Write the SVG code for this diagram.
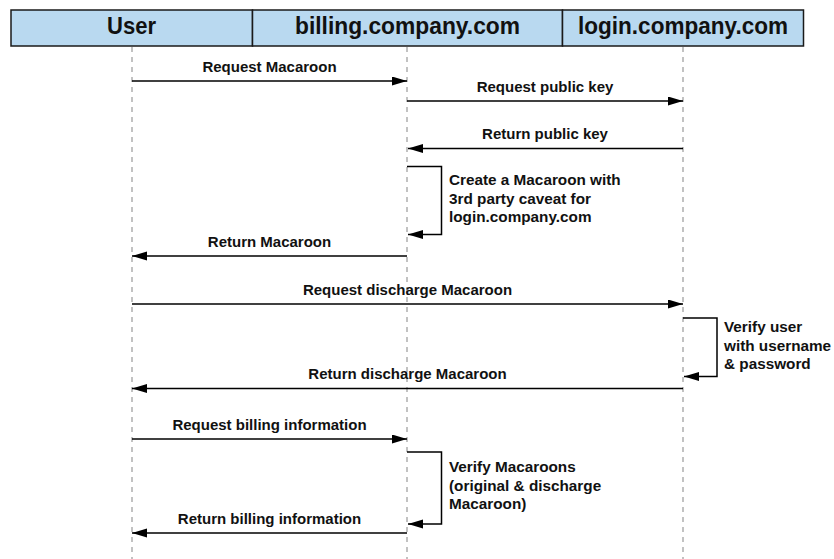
<svg xmlns="http://www.w3.org/2000/svg" width="834" height="559" viewBox="0 0 834 559">
  <style>
    .hdr { fill: #b9d9f0; stroke: #1a1a1a; stroke-width: 1.5; }
    .htxt { font-family: "Liberation Sans", Arial, sans-serif; font-weight: bold; font-size: 24.5px; fill: #111; text-anchor: middle; }
    .life { stroke: #9a9a9a; stroke-width: 1.2; stroke-dasharray: 5 5; fill: none; }
    .msg { stroke: #000; stroke-width: 1.5; fill: none; marker-end: url(#head); }
    .lbl { font-family: "Liberation Sans", Arial, sans-serif; font-weight: bold; font-size: 15px; fill: #111; text-anchor: middle; }
    .note { font-family: "Liberation Sans", Arial, sans-serif; font-weight: bold; font-size: 15.3px; fill: #111; }
  </style>
  <defs>
    <marker id="head" markerUnits="userSpaceOnUse" markerWidth="15" markerHeight="10" refX="15" refY="4.5" orient="auto">
      <path d="M0,0 L15,4.5 L0,9 z" fill="#000"/>
    </marker>
  </defs>
  <rect width="834" height="559" fill="#fff"/>

  <!-- participant header bar -->
  <g id="user">
    <rect class="hdr" x="11" y="10" width="241.5" height="36"/>
    <text class="htxt" x="131.5" y="34" textLength="49" lengthAdjust="spacingAndGlyphs">User</text>
  </g>
  <g id="billing">
    <rect class="hdr" x="252.5" y="10" width="310" height="36"/>
    <text class="htxt" x="407.5" y="34" textLength="225" lengthAdjust="spacingAndGlyphs">billing.company.com</text>
  </g>
  <g id="login">
    <rect class="hdr" x="562.5" y="10" width="241" height="36"/>
    <text class="htxt" x="683" y="34" textLength="210" lengthAdjust="spacingAndGlyphs">login.company.com</text>
  </g>

  <!-- lifelines -->
  <g id="lifelines">
    <line class="life" x1="132" y1="47" x2="132" y2="559"/>
    <line class="life" x1="407" y1="47" x2="407" y2="559"/>
    <line class="life" x1="683" y1="47" x2="683" y2="559"/>
  </g>

  <!-- messages -->
  <g id="connectors">
    <line class="msg" x1="132" y1="81" x2="407" y2="81"/>
    <line class="msg" x1="407" y1="101" x2="683" y2="101"/>
    <line class="msg" x1="683" y1="148.5" x2="408" y2="148.5"/>
    <polyline class="msg" points="407,166.5 441.5,166.5 441.5,234.5 408,234.5"/>
    <line class="msg" x1="407" y1="256" x2="132" y2="256"/>
    <line class="msg" x1="132" y1="304" x2="683" y2="304"/>
    <polyline class="msg" points="683,318 717,318 717,376.5 684,376.5"/>
    <line class="msg" x1="683" y1="388.5" x2="132" y2="388.5"/>
    <line class="msg" x1="132" y1="439" x2="407" y2="439"/>
    <polyline class="msg" points="407,452 441.5,452 441.5,524 408,524"/>
    <line class="msg" x1="407" y1="533" x2="132" y2="533"/>
  </g>

  <!-- message labels -->
  <g id="labels">
    <text class="lbl" x="269.5" y="72">Request Macaroon</text>
    <text class="lbl" x="545" y="92">Request public key</text>
    <text class="lbl" x="545" y="139">Return public key</text>
    <text class="note" x="449" y="185">Create a Macaroon with</text>
    <text class="note" x="449" y="203.5">3rd party caveat for</text>
    <text class="note" x="449" y="222">login.company.com</text>
    <text class="lbl" x="269.5" y="247">Return Macaroon</text>
    <text class="lbl" x="407.5" y="295">Request discharge Macaroon</text>
    <text class="note" x="724" y="332">Verify user</text>
    <text class="note" x="724" y="350.5">with username</text>
    <text class="note" x="724" y="369">&amp; password</text>
    <text class="lbl" x="407.5" y="379">Return discharge Macaroon</text>
    <text class="lbl" x="269.5" y="430">Request billing information</text>
    <text class="note" x="449" y="472">Verify Macaroons</text>
    <text class="note" x="449" y="490.5">(original &amp; discharge</text>
    <text class="note" x="449" y="509">Macaroon)</text>
    <text class="lbl" x="269.5" y="523.5">Return billing information</text>
  </g>
</svg>
